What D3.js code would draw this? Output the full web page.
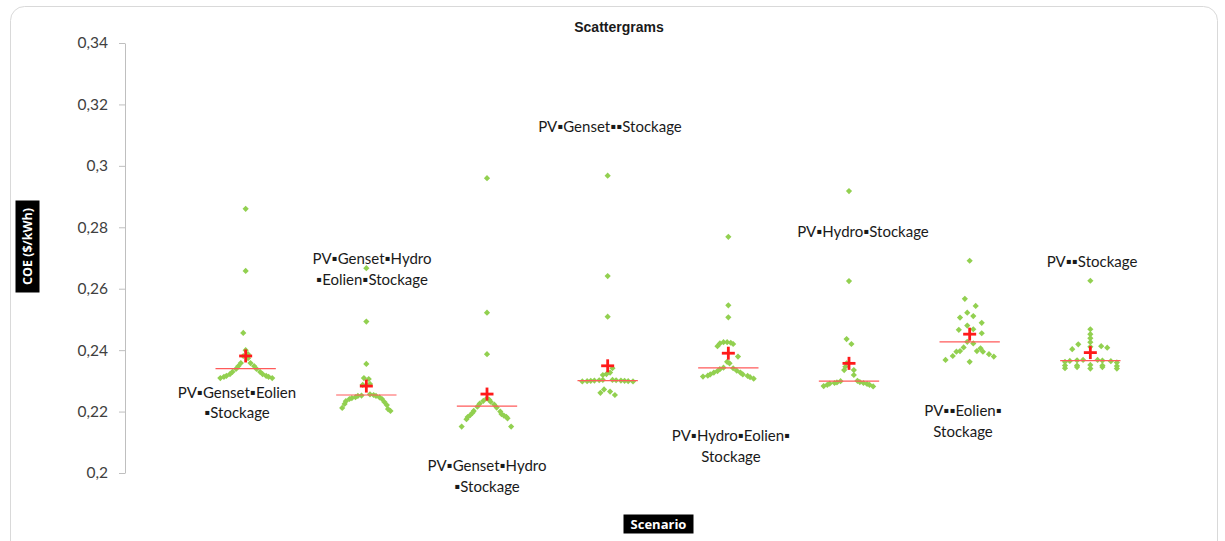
<!DOCTYPE html>
<html>
<head>
<meta charset="utf-8">
<script src="https://cdn.jsdelivr.net/npm/d3@7"></script>
<style>
  html, body { margin: 0; padding: 0; background: #fff; }
  svg { display: block; }
</style>
</head>
<body>
<svg id="chart" width="1225" height="541"></svg>
<script>
// ---------------- DATA ----------------
const chartTitle = "Scattergrams";
const yAxisTitle = "COE ($/kWh)";
const xAxisTitle = "Scenario";

const categories = [
  ["PV\u25AAGenset\u25AAEolien", "\u25AAStockage"],
  ["PV\u25AAGenset\u25AAHydro", "\u25AAEolien\u25AAStockage"],
  ["PV\u25AAGenset\u25AAHydro", "\u25AAStockage"],
  ["PV\u25AAGenset\u25AA\u25AAStockage"],
  ["PV\u25AAHydro\u25AAEolien\u25AA", "Stockage"],
  ["PV\u25AAHydro\u25AAStockage"],
  ["PV\u25AA\u25AAEolien\u25AA", "Stockage"],
  ["PV\u25AA\u25AAStockage"]
];

const yTickValues = [0.2, 0.22, 0.24, 0.26, 0.28, 0.3, 0.32, 0.34];
const yTickLabels = ["0,2", "0,22", "0,24", "0,26", "0,28", "0,3", "0,32", "0,34"];

// mean (red cross) and median (red line) per scenario
const meanValues   = [0.2381, 0.2283, 0.2257, 0.2349, 0.2390, 0.2357, 0.2452, 0.2392];
const medianValues = [0.2340, 0.2254, 0.2218, 0.2301, 0.2342, 0.2299, 0.2427, 0.2366];

// each point: [jitter offset in category units, COE value]
const scenario1 = [[0,0.2860],[0,0.2658],[-0.02,0.2456],[0,0.2400],[0.02,0.2387],[-0.02,0.2381],[0.02,0.2374],
  [-0.21,0.2309],[-0.18,0.2313],[-0.16,0.2316],[-0.13,0.2322],[-0.11,0.2329],[-0.08,0.2339],[-0.06,0.2348],[-0.04,0.2358],
  [0.04,0.2358],[0.07,0.2348],[0.09,0.2339],[0.12,0.2329],[0.14,0.2322],[0.17,0.2316],[0.19,0.2313],[0.22,0.2309]];
const scenario2 = [[0,0.2667],[0,0.2493],[0,0.2355],[-0.02,0.2309],[0.02,0.2306],[0.03,0.2290],[-0.03,0.2287],
  [-0.20,0.2212],[-0.18,0.2225],[-0.17,0.2234],[-0.14,0.2241],[-0.12,0.2244],[-0.09,0.2247],[-0.07,0.2251],[-0.04,0.2252],
  [0.03,0.2256],[0.06,0.2254],[0.08,0.2251],[0.11,0.2246],[0.13,0.2241],[0.15,0.2231],[0.17,0.2221],[0.18,0.2208],[0.20,0.2202]];
const scenario3 = [[0,0.2960],[0,0.2522],[0,0.2387],[0,0.2243],[0.02,0.2238],
  [-0.03,0.2235],[-0.06,0.2226],[-0.08,0.2216],[-0.11,0.2202],[-0.12,0.2196],[-0.14,0.2188],[-0.16,0.2182],[-0.17,0.2175],[-0.21,0.2151],
  [0.03,0.2232],[0.06,0.2223],[0.08,0.2213],[0.11,0.2200],[0.12,0.2192],[0.14,0.2187],[0.16,0.2183],[0.17,0.2178],[0.20,0.2151]];
const scenario4 = [[0,0.2968],[0,0.2641],[0,0.2509],[-0.04,0.2319],[-0.01,0.2322],[0.02,0.2327],[0.04,0.2341],
  [-0.21,0.2298],[-0.17,0.2299],[-0.14,0.2300],[-0.11,0.2301],[-0.07,0.2302],[-0.04,0.2303],
  [0.04,0.2303],[0.07,0.2302],[0.11,0.2301],[0.14,0.2300],[0.17,0.2299],[0.21,0.2298],
  [-0.06,0.2261],[-0.03,0.2272],[0.02,0.2265],[0.06,0.2254]];
const scenario5 = [[0,0.2769],[0,0.2546],[0,0.2507],
  [-0.09,0.2413],[-0.07,0.2422],[-0.04,0.2426],[-0.01,0.2426],[0.02,0.2424],[0.04,0.2420],[0.08,0.2379],
  [-0.01,0.2362],[0.01,0.2357],
  [-0.21,0.2314],[-0.17,0.2317],[-0.15,0.2321],[-0.12,0.2327],[-0.09,0.2332],[-0.07,0.2338],[-0.04,0.2343],
  [0.04,0.2341],[0.07,0.2333],[0.10,0.2327],[0.12,0.2321],[0.16,0.2316],[0.18,0.2312],[0.21,0.2307]];
const scenario6 = [[0,0.2918],[0,0.2625],[-0.02,0.2436],[0.02,0.2420],
  [-0.04,0.2335],[-0.03,0.2346],[-0.02,0.2357],[0.04,0.2335],[0.04,0.2319],
  [-0.21,0.2283],[-0.18,0.2287],[-0.16,0.2291],[-0.12,0.2293],[-0.10,0.2295],[-0.07,0.2299],
  [0.07,0.2300],[0.09,0.2296],[0.12,0.2293],[0.15,0.2290],[0.17,0.2287],[0.20,0.2282]];
const scenario7 = [[0,0.2691],[-0.04,0.2567],[0.05,0.2544],[-0.02,0.2522],[0.03,0.2511],[-0.08,0.2506],[0.10,0.2489],
  [-0.02,0.2480],[-0.09,0.2466],[0.03,0.2468],[0.10,0.2455],[-0.02,0.2427],[0.03,0.2422],[-0.05,0.2409],[-0.08,0.2397],
  [0.09,0.2406],[0.06,0.2397],[-0.11,0.2395],[0.11,0.2395],[0.16,0.2387],[0.20,0.2379],[-0.14,0.2381],[-0.20,0.2368],[0,0.2362]];
const scenario8 = [[0,0.2626],[0,0.2468],[0,0.2452],[0,0.2439],[0,0.2426],[0,0.2411],[-0.10,0.2419],[-0.15,0.2403],[0.09,0.2413],[0.14,0.2408],
  [-0.21,0.2362],[-0.17,0.2365],[-0.11,0.2367],[-0.06,0.2368],[0.06,0.2368],[0.10,0.2366],[0.17,0.2364],[0.22,0.2360],
  [-0.21,0.2350],[-0.21,0.2341],[-0.11,0.2350],[-0.11,0.2345],[0,0.2352],[0,0.2340],[0.10,0.2350],[0.10,0.2345],[0.22,0.2348],[0.22,0.2340]];

const scenarioPoints = [scenario1, scenario2, scenario3, scenario4, scenario5, scenario6, scenario7, scenario8];

// ---------------- LAYOUT ----------------
const svg = d3.select("#chart");
const plot = { left: 125, right: 1211, top: 43, bottom: 473 };

const x = d3.scaleLinear().domain([0, categories.length + 1]).range([plot.left, plot.right]);
const y = d3.scaleLinear().domain([0.2, 0.34]).range([plot.bottom, plot.top]);

// label anchors (category-units x, value y of first line)
const labelAnchors = [[0.928, 0.2264], [2.047, 0.2700], [3.0, 0.2026], [4.019, 0.3130],
                      [5.022, 0.2123], [6.116, 0.2788], [6.945, 0.2205], [8.014, 0.2690]];

// chart area border
svg.append("rect")
  .attr("x", 10.5).attr("y", 6.5)
  .attr("width", 1207).attr("height", 580)
  .attr("rx", 14).attr("ry", 14)
  .attr("fill", "#fff").attr("stroke", "#d9d9d9").attr("stroke-width", 1);

// title
svg.append("text")
  .attr("x", 619).attr("y", 31.5)
  .attr("text-anchor", "middle")
  .attr("font-family", "'Liberation Sans', Arial, sans-serif")
  .attr("font-weight", "bold").attr("font-size", 14)
  .attr("fill", "#1a1a1a")
  .text(chartTitle);

// y axis
const yAxis = d3.axisLeft(y)
  .tickValues(yTickValues)
  .tickFormat((d, i) => yTickLabels[i])
  .tickSizeInner(6).tickSizeOuter(0).tickPadding(11);
const yg = svg.append("g").attr("transform", `translate(${plot.left},0)`).call(yAxis);
yg.select(".domain").attr("stroke", "#bfbfbf");
yg.selectAll(".tick line").attr("stroke", "#bfbfbf");
yg.selectAll(".tick text")
  .attr("font-family", "Lato, 'Open Sans', sans-serif")
  .attr("font-size", 15.5).attr("fill", "#404040");

// y title box
const yTitleG = svg.append("g").attr("transform", "translate(27.5,246.5) rotate(-90)");
yTitleG.append("rect").attr("x", -46).attr("y", -12).attr("width", 92).attr("height", 24).attr("fill", "#000");
yTitleG.append("text").attr("x", 0).attr("y", 0)
  .attr("text-anchor", "middle").attr("dominant-baseline", "central")
  .attr("font-family", "'Open Sans', sans-serif").attr("font-weight", "bold")
  .attr("font-size", 12.5).attr("fill", "#fff")
  .text(yAxisTitle);

// x title box
const xTitleG = svg.append("g").attr("transform", "translate(658.5,524)");
xTitleG.append("rect").attr("x", -35).attr("y", -9.5).attr("width", 70).attr("height", 19).attr("fill", "#000");
xTitleG.append("text").attr("x", 0).attr("y", 0)
  .attr("text-anchor", "middle").attr("dominant-baseline", "central")
  .attr("font-family", "'Open Sans', sans-serif").attr("font-weight", "bold")
  .attr("font-size", 13).attr("fill", "#fff")
  .text(xAxisTitle);

// points
const diamond = "M0,-3.1L3.1,0L0,3.1L-3.1,0Z";
scenarioPoints.forEach((pts, i) => {
  const cx = i + 1;
  svg.append("g").selectAll("path").data(pts).join("path")
    .attr("d", diamond)
    .attr("transform", d => `translate(${x(cx + d[0])},${y(d[1])})`)
    .attr("fill", "#92D050");
});

// median lines
const halfLine = 0.25;
svg.append("g").selectAll("line").data(medianValues).join("line")
  .attr("x1", (d, i) => x(i + 1 - halfLine))
  .attr("x2", (d, i) => x(i + 1 + halfLine))
  .attr("y1", d => y(d)).attr("y2", d => y(d))
  .attr("stroke", "#ff5a5a").attr("stroke-width", 1.2);

// mean crosses
const crossHalf = 6.5;
const cg = svg.append("g");
meanValues.forEach((m, i) => {
  const px = x(i + 1), py = y(m);
  cg.append("line").attr("x1", px - crossHalf).attr("x2", px + crossHalf).attr("y1", py).attr("y2", py)
    .attr("stroke", "#ff1a1a").attr("stroke-width", 2.8);
  cg.append("line").attr("x1", px).attr("x2", px).attr("y1", py - crossHalf).attr("y2", py + crossHalf)
    .attr("stroke", "#ff1a1a").attr("stroke-width", 2.8);
});

// category labels
const lg = svg.append("g");
categories.forEach((lines, i) => {
  const a = labelAnchors[i];
  const t = lg.append("text")
    .attr("text-anchor", "middle")
    .attr("font-family", "Lato, 'Open Sans', sans-serif")
    .attr("font-size", 15).attr("fill", "#1a1a1a");
  lines.forEach((ln, j) => {
    t.append("tspan").attr("x", x(a[0])).attr("y", y(a[1]) + j * 20.5)
      .attr("dominant-baseline", "central").text(ln);
  });
});
</script>
</body>
</html>
